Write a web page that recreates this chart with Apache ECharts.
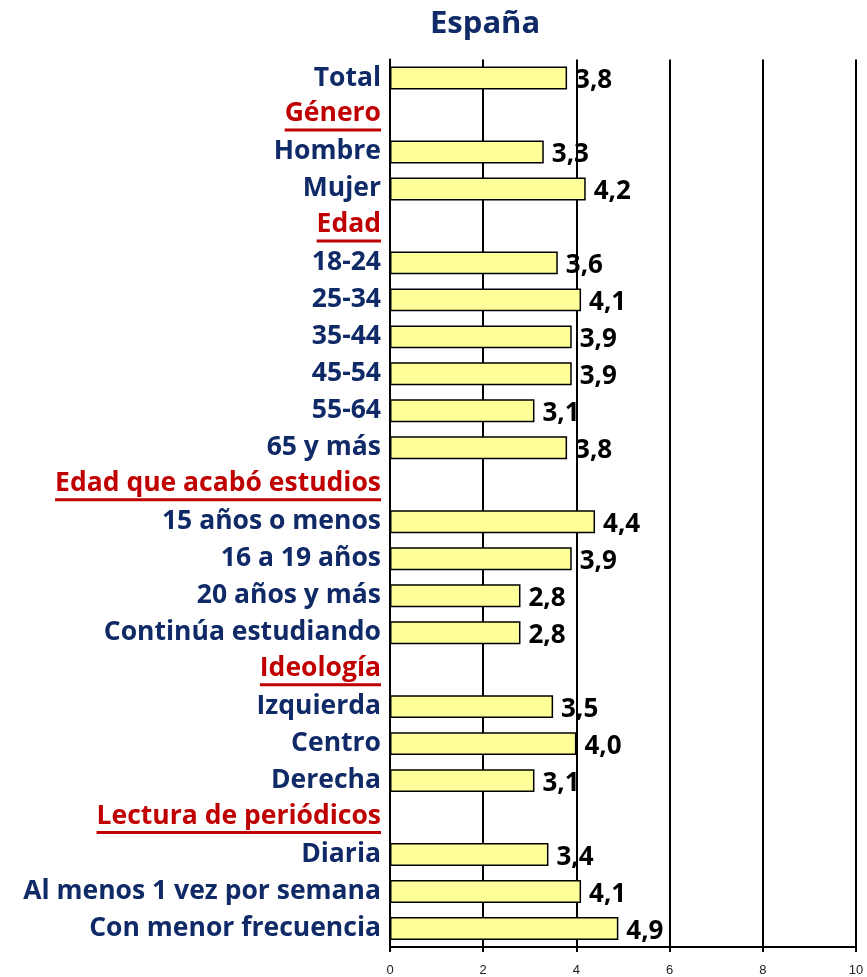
<!DOCTYPE html>
<html>
<head>
<meta charset="utf-8">
<script src="https://cdn.jsdelivr.net/npm/echarts@6/dist/echarts.min.js"></script>
<style>
  html, body { margin: 0; padding: 0; background: #fff; }
  #chart { width: 867px; height: 977px; }
</style>
</head>
<body>
<div id="chart"></div>
<script>
// Rows of the chart, top to bottom
const categories = [
  'Total', 'Género', 'Hombre', 'Mujer', 'Edad', '18-24', '25-34', '35-44',
  '45-54', '55-64', '65 y más', 'Edad que acabó estudios', '15 años o menos',
  '16 a 19 años', '20 años y más', 'Continúa estudiando', 'Ideología',
  'Izquierda', 'Centro', 'Derecha', 'Lectura de periódicos', 'Diaria',
  'Al menos 1 vez por semana', 'Con menor frecuencia'
];
// Group headings (no bar, drawn in red and underlined)
const headers = ['Género', 'Edad', 'Edad que acabó estudios', 'Ideología', 'Lectura de periódicos'];
// Scores per row (null for group headings)
const values = [
  3.8, null, 3.3, 4.2, null, 3.6, 4.1, 3.9, 3.9, 3.1, 3.8, null, 4.4,
  3.9, 2.8, 2.8, null, 3.5, 4.0, 3.1, null, 3.4, 4.1, 4.9
];
// Value axis range
const axisMin = 0;
const axisMax = 10;
const axisStep = 2;

const NAVY = '#0f2a66';
const RED = '#c00000';
const FONT = '"Open Sans", "Noto Sans", sans-serif';
const LABEL_SIZE = 26.5;

const chart = echarts.init(document.getElementById('chart'), null, { renderer: 'canvas' });

chart.setOption({
  animation: false,
  backgroundColor: '#ffffff',
  title: {
    text: 'España',
    left: 425,
    top: 4,
    textStyle: { color: NAVY, fontFamily: FONT, fontWeight: 'bold', fontSize: 31 }
  },
  grid: { left: 390, right: 11, top: 59.5, bottom: 27, containLabel: false },
  xAxis: {
    type: 'value',
    min: axisMin,
    max: axisMax,
    interval: axisStep,
    axisLine: { show: true, lineStyle: { color: '#000', width: 2 } },
    axisTick: { show: true, length: 5, lineStyle: { color: '#000', width: 2 } },
    axisLabel: { color: '#222', fontFamily: 'Liberation Sans, Arial, sans-serif', fontSize: 13, margin: 17 },
    splitLine: { show: true, lineStyle: { color: '#000', width: 2 } }
  },
  yAxis: {
    type: 'category',
    inverse: true,
    data: categories,
    axisLine: { show: true, lineStyle: { color: '#000', width: 2 } },
    axisTick: { show: false },
    axisLabel: {
      margin: 9,
      formatter: function (v) {
        return headers.indexOf(v) >= 0 ? '{h|' + v + '}\n{u|' + v + '}' : '{n|' + v + '}';
      },
      rich: {
        n: { color: NAVY, fontFamily: FONT, fontWeight: 'bold', fontSize: LABEL_SIZE, lineHeight: 30 },
        h: { color: RED, fontFamily: FONT, fontWeight: 'bold', fontSize: LABEL_SIZE, lineHeight: 30 },
        u: { color: 'transparent', fontFamily: FONT, fontWeight: 'bold', fontSize: LABEL_SIZE,
             backgroundColor: RED, height: 3, lineHeight: 3 }
      }
    }
  },
  series: [{
    type: 'bar',
    data: values,
    barWidth: '62%',
    itemStyle: { color: '#ffff99', borderColor: '#000', borderWidth: 1.5 },
    label: {
      show: true,
      position: 'right',
      distance: 8,
      offset: [0, 3],
      color: '#000',
      fontFamily: FONT,
      fontWeight: 'bold',
      fontSize: 26,
      formatter: function (p) { return p.value == null ? '' : p.value.toFixed(1).replace('.', ','); }
    }
  }]
});
</script>
</body>
</html>
